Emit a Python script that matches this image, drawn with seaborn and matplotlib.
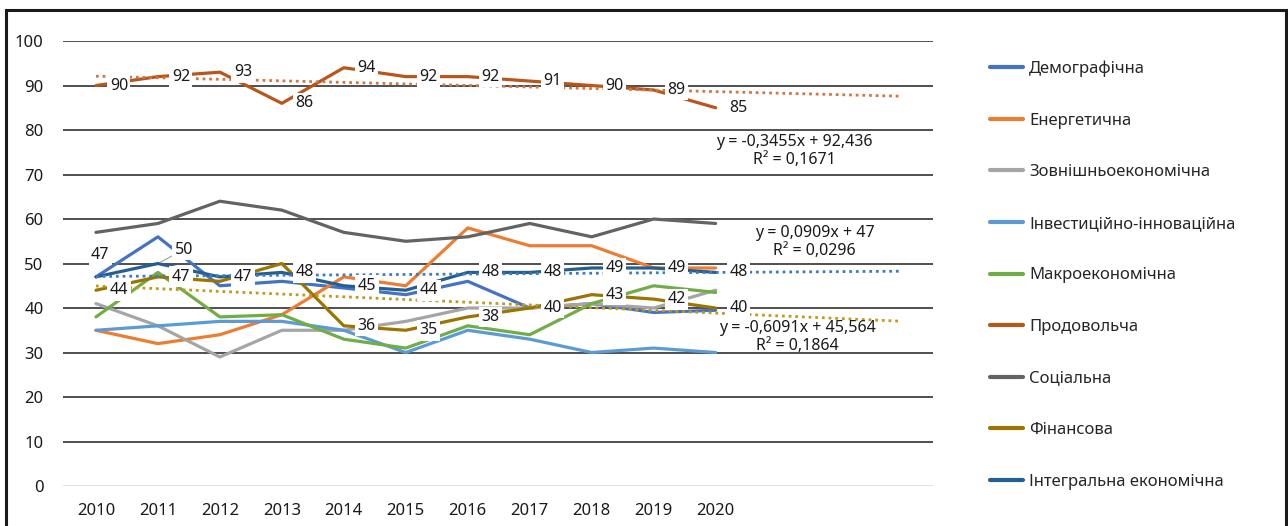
import numpy as np
import pandas as pd
import matplotlib
matplotlib.use('Agg')
import matplotlib.pyplot as plt
import seaborn as sns
from matplotlib.lines import Line2D
from matplotlib.patches import Rectangle

sns.set_style('white')
plt.rcParams['font.family'] = ['Noto Sans', 'DejaVu Sans']

years = list(range(2010, 2021))

names = ['Демографічна', 'Енергетична', 'Зовнішньоекономічна', 'Інвестиційно-інноваційна',
         'Макроекономічна', 'Продовольча', 'Соціальна', 'Фінансова', 'Інтегральна економічна']

demo = [47, 56, 45, 46, 44.5, 43, 46, 40, 41, 39, 39.5]
energy = [35, 32, 34, 38.5, 47, 45, 58, 54, 54, 49, 49]
foreign = [41, 36, 29, 35, 35, 37, 40, 40, 41, 40, 44]
invest = [35, 36, 37, 37, 35, 30, 35, 33, 30, 31, 30]
macro = [38, 48, 38, 38.5, 33, 31, 36, 34, 41, 45, 43.5]
food = [90, 92, 93, 86, 94, 92, 92, 91, 90, 89, 85]
social = [57, 59, 64, 62, 57, 55, 56, 59, 56, 60, 59]
finance = [44, 47, 46, 50, 36, 35, 38, 40, 43, 42, 40]
integral = [47, 50, 47, 48, 45, 44, 48, 48, 49, 49, 48]

colors = ['#4472C4', '#ED7D31', '#A5A5A5', '#5B9BD5', '#70AD47',
          '#B8561B', '#636363', '#9C7400', '#255E91']

# trend lines (Excel linear trend, forecast 3 periods)
trend_names = ['Продовольча', 'Інтегральна економічна', 'Фінансова']
trend_slope = [-0.3455, 0.0909, -0.6091]
trend_icpt = [92.436, 47, 45.564]
trend_text = ['y = -0,3455x + 92,436\nR² = 0,1671',
              'y = 0,0909x + 47\nR² = 0,0296',
              'y = -0,6091x + 45,564\nR² = 0,1864']
trend_colors = ['#D2773F', '#3D7CC0', '#C09A1A']
trend_text_pos = [(2021.27, 75.2), (2021.6, 54.9), (2021.32, 33.5)]

all_vals = [demo, energy, foreign, invest, macro, food, social, finance, integral]
df = pd.DataFrame({'year': years * len(names),
                   'series': np.repeat(names, len(years)),
                   'value': np.concatenate(all_vals)})

fig = plt.figure(figsize=(12.88, 5.26), dpi=100)
ax = fig.add_axes([0.049, 0.076, 0.675, 0.846])

sns.lineplot(data=df, x='year', y='value', hue='series', hue_order=names,
             palette=dict(zip(names, colors)), lw=2.3, legend=False, ax=ax, zorder=3)

for nm, s, b, c, txt, pos in zip(trend_names, trend_slope, trend_icpt, trend_colors, trend_text, trend_text_pos):
    xx = np.arange(1, 15)
    ax.plot(2009 + xx, s * xx + b, ls=(0, (1, 1.4)), lw=2, color=c, zorder=4)
    ax.text(pos[0], pos[1], txt, ha='center', va='center', multialignment='center',
            fontsize=11.5, color='#1a1a1a', zorder=7, linespacing=1.15)

# data labels (right of point, white box); finance 2012/2013 sit under the integral labels
lab_box = dict(boxstyle='square,pad=0.15', fc='white', ec='none')
hidden = [('fin', 2012), ('fin', 2013)]
for key, vals in [('fin', finance), ('food', food), ('int', integral)]:
    for yr, v in zip(years, vals):
        if (key, yr) in hidden:
            continue
        off, ha = (10, 0), 'left'
        arrow = None
        if key == 'int' and yr == 2011:
            off = (12, 10)
            arrow = dict(arrowstyle='-', color='#a0a0a0', lw=0.8, shrinkA=0, shrinkB=2)
        if key == 'int' and yr == 2010:
            off, ha = (3, 16), 'center'
        ax.annotate(f'{v:g}', xy=(yr, v), xytext=off, textcoords='offset points',
                    ha=ha, va='center', fontsize=11.5, color='#1a1a1a',
                    bbox=lab_box, zorder=6, arrowprops=arrow)

ax.set_xlim(2009.47, 2023.5)
ax.set_ylim(0, 100)
ax.set_yticks(range(0, 101, 10))
ax.set_xticks(years)
ax.set_xlabel('')
ax.set_ylabel('')
ax.tick_params(axis='both', length=0, labelsize=12, colors='#1a1a1a')
ax.tick_params(axis='y', pad=14)
ax.tick_params(axis='x', pad=12)
ax.grid(axis='y', color='#1f1f1f', lw=1.1)
ax.grid(axis='x', visible=False)
ax.set_axisbelow(True)
ax.yaxis.get_gridlines()[0].set_color('#d9d9d9')
for sp in ax.spines.values():
    sp.set_visible(False)

handles = [Line2D([0], [0], color=c, lw=3) for c in colors]
fig.legend(handles, names, loc='upper left', bbox_to_anchor=(0.762, 0.9007), frameon=False,
           fontsize=12, handlelength=2.0, handletextpad=0.35, labelspacing=2.135, borderpad=0)

fig.patches.append(Rectangle((6 / 1288, -0.1), 1280 / 1288, 1.1 - 10 / 526, transform=fig.transFigure,
                             fill=False, lw=2.2, ec='#1a1a1a'))

plt.savefig('out.png', dpi=100)
